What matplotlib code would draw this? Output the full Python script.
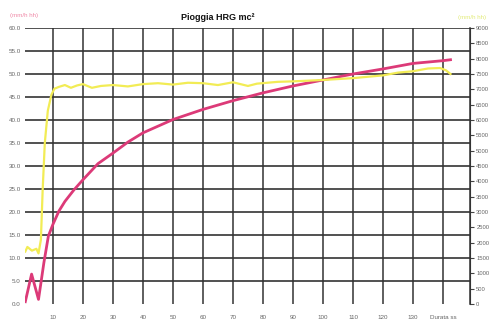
import matplotlib.pyplot as plt
import numpy as np

# dati
pink_x = [0.8, 2.9, 5.2, 7.0, 8.5, 10, 12, 14, 17, 20, 25, 30, 35, 40, 50, 60,
          70, 80, 90, 100, 110, 120, 130, 140, 142.5]
pink_y = [0.5, 6.5, 1.0, 9.0, 14.8, 17.3, 20.2, 22.3, 24.8, 27.0, 30.5, 32.8,
          35.2, 37.2, 40.1, 42.3, 44.2, 45.9, 47.4, 48.7, 50.0, 51.1, 52.3, 52.9, 53.1]

yellow_x = [0.8, 1.5, 3, 4.5, 5.2, 6.0, 6.6, 7.3, 8.3, 9.5, 10.5, 12, 14, 16, 18,
            20, 23, 26, 30, 35, 40, 45, 50, 55, 60, 65, 70, 75, 78, 85, 90, 100,
            110, 120, 125, 130, 135, 139, 141, 142.5]
yellow_y = [1710, 1860, 1740, 1800, 1650, 2100, 3750, 5250, 6300, 6825, 7020,
            7080, 7140, 7050, 7125, 7170, 7050, 7110, 7140, 7095, 7170, 7200,
            7155, 7215, 7200, 7140, 7230, 7110, 7185, 7245, 7260, 7305, 7365,
            7455, 7545, 7590, 7680, 7695, 7620, 7500]

left_ticks = np.arange(0, 61, 5)
right_ticks = np.arange(0, 9001, 500)
x_ticks = list(range(10, 141, 10))
x_labels = [str(t) for t in range(10, 131, 10)] + ['Durata ss']

plt.rcParams['font.family'] = ['Liberation Sans', 'DejaVu Sans']

fig = plt.figure(figsize=(4.91, 3.22), dpi=100)
ax = fig.add_axes([25 / 491, 1 - 304 / 322, 445 / 491, 276 / 322])

ax.set_xlim(0.7, 149)
ax.set_ylim(0, 60)
ax.set_yticks(left_ticks)
ax.set_yticklabels(['%.1f' % v for v in left_ticks])
ax.set_xticks(x_ticks)
ax.set_xticklabels(x_labels)

for v in left_ticks[1:]:
    ax.axhline(v, color='#222222', lw=1.1, zorder=1)
for v in x_ticks:
    ax.axvline(v, color='#333333', lw=1.1, zorder=1)

for s in ['left', 'top', 'bottom']:
    ax.spines[s].set_visible(False)
ax.spines['right'].set_color('#333333')
ax.spines['right'].set_linewidth(1.1)
ax.tick_params(axis='y', length=0, labelsize=4.5, labelcolor='#666666', pad=3)
ax.tick_params(axis='x', length=0, labelsize=4.5, labelcolor='#666666', pad=8)

ax.plot(pink_x, pink_y, color='#dc3a78', lw=2.0, zorder=4)

ax2 = ax.twinx()
ax2.set_ylim(0, 9000)
ax2.set_yticks(right_ticks)
ax2.set_yticklabels([str(v) for v in right_ticks])
for s in ['left', 'top', 'bottom']:
    ax2.spines[s].set_visible(False)
ax2.spines['right'].set_color('#333333')
ax2.tick_params(axis='y', length=3, width=0.8, color='#444444', labelsize=4.2,
                labelcolor='#666666', pad=1.5)
ax2.plot(yellow_x, yellow_y, color='#f2ec55', lw=1.6, zorder=3)

fig.text(218 / 491, 1 - 17 / 322, 'Pioggia HRG mc\u00b2', ha='center', va='center',
         fontsize=6.5, fontweight='bold', color='#111111')
fig.text(10 / 491, 1 - 15 / 322, '(mm/h hh)', ha='left', va='center',
         fontsize=4.5, color='#f08aa8')
fig.text(486 / 491, 1 - 17 / 322, '(mm/h hh)', ha='right', va='center',
         fontsize=4.5, color='#e2ec7a')

fig.savefig('out.png', dpi=100)
